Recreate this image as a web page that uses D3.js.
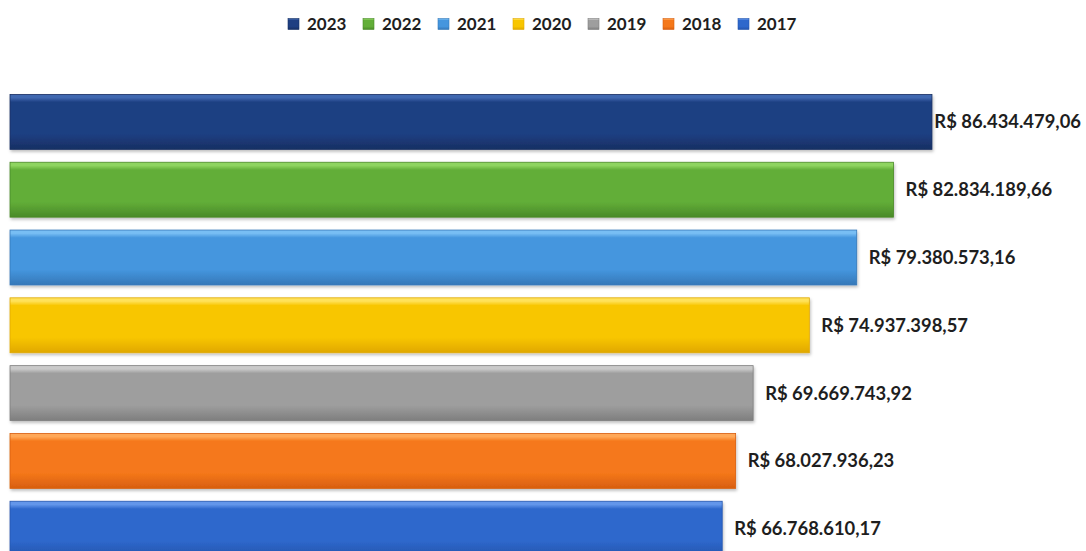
<!DOCTYPE html>
<html>
<head>
<meta charset="utf-8">
<script src="https://cdn.jsdelivr.net/npm/d3@7"></script>
<style>
  html, body { margin: 0; padding: 0; background: #ffffff; }
  svg { display: block; }
</style>
</head>
<body>
<svg id="chart" width="1086" height="551"></svg>
<script>
const years = ["2023", "2022", "2021", "2020", "2019", "2018", "2017"];
const values = [86434479.06, 82834189.66, 79380573.16, 74937398.57, 69669743.92, 68027936.23, 66768610.17];
const labels = ["R$ 86.434.479,06", "R$ 82.834.189,66", "R$ 79.380.573,16", "R$ 74.937.398,57", "R$ 69.669.743,92", "R$ 68.027.936,23", "R$ 66.768.610,17"];
const colors = ["#1F3F82", "#62AE38", "#4596DE", "#F8C600", "#9E9E9E", "#F5781A", "#2E68CC"];
const lights = ["#4068B0", "#8ED460", "#78BEF4", "#FFE25A", "#CACACA", "#FFA858", "#6396EA"];
const darks  = ["#172F63", "#4A8A28", "#3578B8", "#E0A800", "#7E7E7E", "#D85E10", "#2455AE"];

const svg = d3.select("#chart");
const W = 1086, H = 551;

const x = d3.scaleLinear().domain([0, 90000000]).range([10, 970]);
const y = d3.scaleBand().domain(years).range([88, 562.6]).paddingInner(0.19).paddingOuter(0.095);

const defs = svg.append("defs");
years.forEach((yr, i) => {
  const g = defs.append("linearGradient").attr("id", "g" + i)
    .attr("x1", 0).attr("y1", 0).attr("x2", 0).attr("y2", 1);
  g.append("stop").attr("offset", "0%").attr("stop-color", lights[i]);
  g.append("stop").attr("offset", "6%").attr("stop-color", lights[i]);
  g.append("stop").attr("offset", "14%").attr("stop-color", colors[i]);
  g.append("stop").attr("offset", "72%").attr("stop-color", colors[i]);
  g.append("stop").attr("offset", "100%").attr("stop-color", darks[i]);
});
const f = defs.append("filter").attr("id", "shadow").attr("x", "-5%").attr("y", "-20%").attr("width", "110%").attr("height", "150%");
f.append("feDropShadow").attr("dx", 1).attr("dy", 2).attr("stdDeviation", 1.5).attr("flood-color", "#000").attr("flood-opacity", 0.25);

// Bars
const bars = svg.append("g");
bars.selectAll("rect.bar").data(years).join("rect")
  .attr("class", "bar")
  .attr("x", x(0))
  .attr("y", d => y(d))
  .attr("width", (d, i) => x(values[i]) - x(0))
  .attr("height", y.bandwidth())
  .attr("fill", (d, i) => `url(#g${i})`)
  .attr("stroke", (d, i) => darks[i])
  .attr("stroke-width", 0.8)
  .attr("filter", "url(#shadow)");

// Value labels
const lbl = svg.append("g").selectAll("text").data(years).join("text")
  .attr("x", (d, i) => x(values[i]) + 12)
  .attr("y", d => y(d) + y.bandwidth() / 2)
  .attr("dy", "0.35em")
  .attr("font-family", "Lato, 'Open Sans', sans-serif")
  .attr("font-weight", "bold")
  .attr("font-size", "18.4px")
  .attr("fill", "#1e1e1e")
  .text((d, i) => labels[i]);
// keep labels inside the picture
lbl.each(function() {
  const t = d3.select(this);
  const len = this.getComputedTextLength();
  const x0 = +t.attr("x");
  if (x0 + len > W - 5) t.attr("x", W - 5 - len);
});

// Legend
const legend = svg.append("g");
const step = 75, sw = 11;
const startX = 288, ly = 24;
years.forEach((yr, i) => {
  const gx = startX + i * step;
  legend.append("rect")
    .attr("x", gx).attr("y", ly - sw / 2)
    .attr("width", sw).attr("height", sw)
    .attr("fill", `url(#g${i})`)
    .attr("stroke", darks[i]).attr("stroke-width", 0.6);
  legend.append("text")
    .attr("x", gx + sw + 8).attr("y", ly)
    .attr("dy", "0.35em")
    .attr("font-family", "Lato, 'Open Sans', sans-serif")
    .attr("font-weight", "bold")
    .attr("font-size", "17px")
    .attr("fill", "#1e1e1e")
    .text(yr);
});
</script>
</body>
</html>
